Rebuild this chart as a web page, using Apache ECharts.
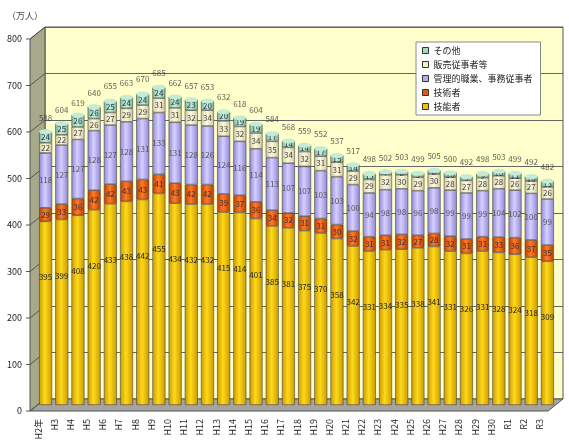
<!DOCTYPE html>
<html>
<head>
<meta charset="utf-8">
<script src="https://cdn.jsdelivr.net/npm/echarts@6/dist/echarts.min.js"></script>
<style>
  html, body { margin: 0; padding: 0; background: #fff; }
  #main { width: 569px; height: 447px; }
</style>
</head>
<body>
<div id="main"></div>
<script>
// 年次
const categories = ['H2年', 'H3', 'H4', 'H5', 'H6', 'H7', 'H8', 'H9', 'H10', 'H11', 'H12',
  'H13', 'H14', 'H15', 'H16', 'H17', 'H18', 'H19', 'H20', 'H21', 'H22', 'H23',
  'H24', 'H25', 'H26', 'H27', 'H28', 'H29', 'H30', 'R1', 'R2', 'R3'];

// 技能者
const skilled = [395, 399, 408, 420, 433, 438, 442, 455, 434, 432, 432,
  415, 414, 401, 385, 381, 375, 370, 358, 342, 331, 334,
  335, 338, 341, 331, 326, 331, 328, 324, 318, 309];
// 技術者
const technical = [29, 33, 36, 42, 42, 43, 43, 41, 43, 42, 42,
  39, 37, 36, 34, 32, 31, 31, 30, 32, 31, 31,
  32, 27, 28, 32, 31, 31, 33, 36, 37, 35];
// 管理的職業、事務従事者
const clerical = [118, 127, 127, 128, 127, 128, 131, 133, 131, 128, 126,
  124, 116, 114, 113, 107, 107, 103, 103, 100, 94, 98,
  98, 96, 98, 99, 99, 99, 104, 102, 100, 99];
// 販売従事者等
const sales = [22, 22, 27, 26, 27, 29, 29, 31, 31, 32, 34,
  33, 32, 34, 35, 34, 32, 31, 31, 29, 29, 32,
  30, 29, 30, 28, 27, 28, 28, 26, 27, 26];
// その他
const others = [24, 25, 26, 26, 25, 24, 24, 24, 24, 23, 20,
  20, 19, 19, 17, 14, 14, 17, 15, 14, 13, 7,
  8, 9, 8, 10, 9, 9, 10, 11, 10, 13];
// 合計
const totals = [588, 604, 619, 640, 655, 663, 670, 685, 662, 657, 653,
  632, 618, 604, 584, 568, 559, 552, 537, 517, 498, 502,
  503, 499, 505, 500, 492, 498, 503, 499, 492, 482];

const yMin = 0, yMax = 800, yStep = 100;

// 手前の面と奥の壁（3Dっぽく見せる）
const front = { left: 30, top: 39, width: 518, height: 372 };
const DX = 15, DY = -12;

function cyl(dark, light) {
  return new echarts.graphic.LinearGradient(0, 0, 1, 0, [
    { offset: 0, color: dark },
    { offset: 0.45, color: light },
    { offset: 1, color: dark }
  ]);
}

const names = ['技能者', '技術者', '管理的職業、事務従事者', '販売従事者等', 'その他'];
const values = [skilled, technical, clerical, sales, others];
const solid = ['#f2c200', '#e8580c', '#b4acf0', '#f4f0c4', '#a6dcbc'];
const fills = [
  cyl('#c99a00', '#ffd91a'),
  cyl('#b83c00', '#ff7a2a'),
  cyl('#8f86d8', '#d6d0ff'),
  cyl('#cfc8a0', '#fffbe0'),
  cyl('#78b894', '#c8f0d8')
];
const labelColors = ['#222', '#333', '#555', '#444', '#335'];

// 積み上げの頂点（円柱の上ふた用）
const stackTop = categories.map((c, i) => values.reduce((s, arr) => s + arr[i], 0));

const chart = echarts.init(document.getElementById('main'));

const series = names.map((n, i) => ({
  name: n,
  type: 'bar',
  stack: 'all',
  xAxisIndex: 2,
  yAxisIndex: 2,
  barWidth: 13,
  data: values[i],
  itemStyle: { color: fills[i], borderColor: '#444', borderWidth: 0.6 },
  label: {
    show: true,
    position: i === 0 ? 'insideTop' : 'inside',
    distance: i === 0 ? 52 : 5,
    fontSize: 8,
    color: labelColors[i],
    fontFamily: 'Noto Sans CJK JP, sans-serif'
  },
  emphasis: { disabled: true }
}));

series.push({
  name: 'cap',
  type: 'pictorialBar',
  xAxisIndex: 2,
  yAxisIndex: 2,
  symbol: 'circle',
  symbolSize: [13, 5],
  symbolPosition: 'end',
  symbolOffset: [0, '-50%'],
  data: stackTop,
  itemStyle: { color: '#c4ecd4', borderColor: '#444', borderWidth: 0.6 },
  silent: true,
  z: 3
});

series.push({
  name: 'total',
  type: 'scatter',
  xAxisIndex: 2,
  yAxisIndex: 2,
  symbolSize: 0,
  data: totals,
  label: {
    show: true,
    position: 'top',
    distance: 10,
    fontSize: 8,
    color: '#333',
    formatter: p => p.value
  },
  silent: true,
  z: 5
});

// 左の側壁・床・目盛線
const graphics = [];
const fb = front.top + front.height;
graphics.push({
  type: 'polygon',
  shape: { points: [[front.left, front.top], [front.left + DX, front.top + DY], [front.left + DX, fb + DY], [front.left, fb]] },
  style: { fill: '#a8a88a', stroke: '#555', lineWidth: 1 },
  z: 1
});
graphics.push({
  type: 'polygon',
  shape: { points: [[front.left, fb], [front.left + DX, fb + DY], [front.left + DX + front.width, fb + DY], [front.left + front.width, fb]] },
  style: { fill: '#a4a4a4', stroke: '#555', lineWidth: 1 },
  z: 1
});
for (let v = yMin; v <= yMax; v += yStep) {
  const y = fb - (v - yMin) / (yMax - yMin) * front.height;
  graphics.push({
    type: 'line',
    shape: { x1: front.left, y1: y, x2: front.left + DX, y2: y + DY },
    style: { stroke: '#555', lineWidth: 1 },
    z: 1
  });
  graphics.push({
    type: 'line',
    shape: { x1: front.left - 4, y1: y, x2: front.left, y2: y },
    style: { stroke: '#555', lineWidth: 1 },
    z: 1
  });
}

const option = {
  animation: false,
  textStyle: { fontFamily: 'Noto Sans CJK JP, sans-serif' },
  title: {
    text: '（万人）',
    left: 2,
    top: 6,
    textStyle: { fontSize: 9, fontWeight: 'normal', color: '#444' }
  },
  legend: {
    orient: 'vertical',
    left: 416,
    top: 42,
    backgroundColor: '#fff',
    borderColor: '#888',
    borderWidth: 1,
    padding: [4, 8, 4, 6],
    itemWidth: 6,
    itemHeight: 6,
    itemGap: 5,
    icon: 'rect',
    textStyle: { fontSize: 9, color: '#222' },
    itemStyle: { borderColor: '#333', borderWidth: 1 },
    selectedMode: false,
    data: names.slice().reverse().map(n => ({
      name: n,
      itemStyle: { color: solid[names.indexOf(n)] }
    }))
  },
  grid: [
    // 奥の壁
    { left: front.left + DX, top: front.top + DY, width: front.width, height: front.height,
      show: true, backgroundColor: '#ffffcc', borderColor: '#555', borderWidth: 1 },
    // 手前（軸ラベル）
    { left: front.left, top: front.top, width: front.width, height: front.height },
    // 棒
    { left: front.left + DX / 2, top: front.top + DY / 2, width: front.width, height: front.height }
  ],
  xAxis: [
    { gridIndex: 0, type: 'category', data: categories, show: false },
    { gridIndex: 1, type: 'category', data: categories,
      axisLine: { show: false },
      axisTick: { show: false },
      axisLabel: { rotate: 90, fontSize: 9, color: '#222', margin: 8, interval: 0 } },
    { gridIndex: 2, type: 'category', data: categories, show: false }
  ],
  yAxis: [
    { gridIndex: 0, type: 'value', min: yMin, max: yMax, interval: yStep,
      axisLabel: { show: false }, axisLine: { show: false }, axisTick: { show: false },
      splitLine: { show: true, lineStyle: { color: '#666', width: 1 } } },
    { gridIndex: 1, type: 'value', min: yMin, max: yMax, interval: yStep,
      axisLabel: { fontSize: 9, color: '#222', margin: 8 },
      axisLine: { show: false }, axisTick: { show: false }, splitLine: { show: false } },
    { gridIndex: 2, type: 'value', min: yMin, max: yMax, interval: yStep, show: false,
      splitLine: { show: false } }
  ],
  graphic: graphics,
  series: series
};

chart.setOption(option);
</script>
</body>
</html>
